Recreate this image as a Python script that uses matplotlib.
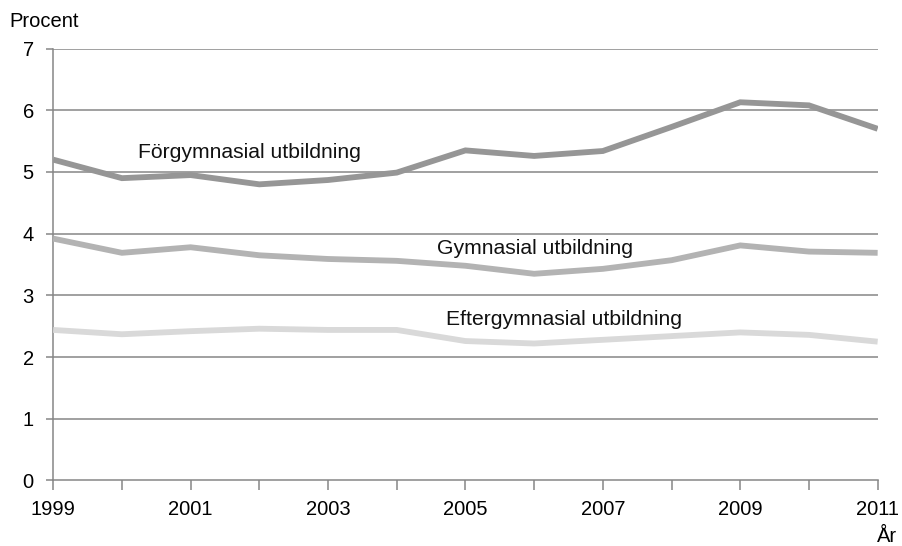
import numpy as np
import matplotlib
matplotlib.use("Agg")
import matplotlib.pyplot as plt

plt.rcParams['font.family'] = ['Liberation Sans', 'DejaVu Sans']

# Data
years = list(range(1999, 2012))
forgymnasial = [5.20, 4.90, 4.95, 4.80, 4.87, 4.99, 5.35, 5.26, 5.34, 5.73, 6.13, 6.08, 5.70]
gymnasial = [3.92, 3.69, 3.78, 3.65, 3.59, 3.56, 3.48, 3.35, 3.43, 3.57, 3.81, 3.71, 3.69]
eftergymnasial = [2.44, 2.37, 2.42, 2.46, 2.44, 2.44, 2.26, 2.22, 2.28, 2.34, 2.40, 2.36, 2.25]

series = [
    ("Förgymnasial utbildning", forgymnasial, "#969696", (2000.23, 5.31)),
    ("Gymnasial utbildning", gymnasial, "#b3b3b3", (2004.58, 3.76)),
    ("Eftergymnasial utbildning", eftergymnasial, "#d9d9d9", (2004.72, 2.61)),
]

fig = plt.figure(figsize=(9.02, 5.46), dpi=100)
ax = fig.add_axes([0.059, 0.12, 0.914, 0.791])

grid_col = "#868686"
for v in range(1, 8):
    ax.axhline(v, color=grid_col, lw=1.1, zorder=1)

for name, vals, col, (tx, ty) in series:
    ax.plot(years, vals, color=col, lw=4.2, solid_capstyle="butt",
            solid_joinstyle="miter", zorder=3)
    ax.text(tx, ty, name, fontsize=15.2, va="center", ha="left", color="#111111")

ax.set_xlim(1999, 2011)
ax.set_ylim(0, 7)
ax.set_yticks(range(0, 8))
ax.set_xticks(years)
ax.set_xticklabels([str(y) if (y - 1999) % 2 == 0 else "" for y in years])

for s in ["top", "right"]:
    ax.spines[s].set_visible(False)
for s in ["left", "bottom"]:
    ax.spines[s].set_color(grid_col)
    ax.spines[s].set_linewidth(1.1)

ax.tick_params(axis="x", direction="out", length=7, width=1.1, color=grid_col,
               labelsize=14.5, pad=7)
ax.tick_params(axis="y", direction="out", length=5, width=1.1, color=grid_col,
               labelsize=14.5, pad=9)

fig.text(0.01, 0.96, "Procent", fontsize=14.5, ha="left", va="center")
fig.text(0.972, 0.017, "År", fontsize=14.5, ha="left", va="center")

fig.savefig("out.png", dpi=100)
